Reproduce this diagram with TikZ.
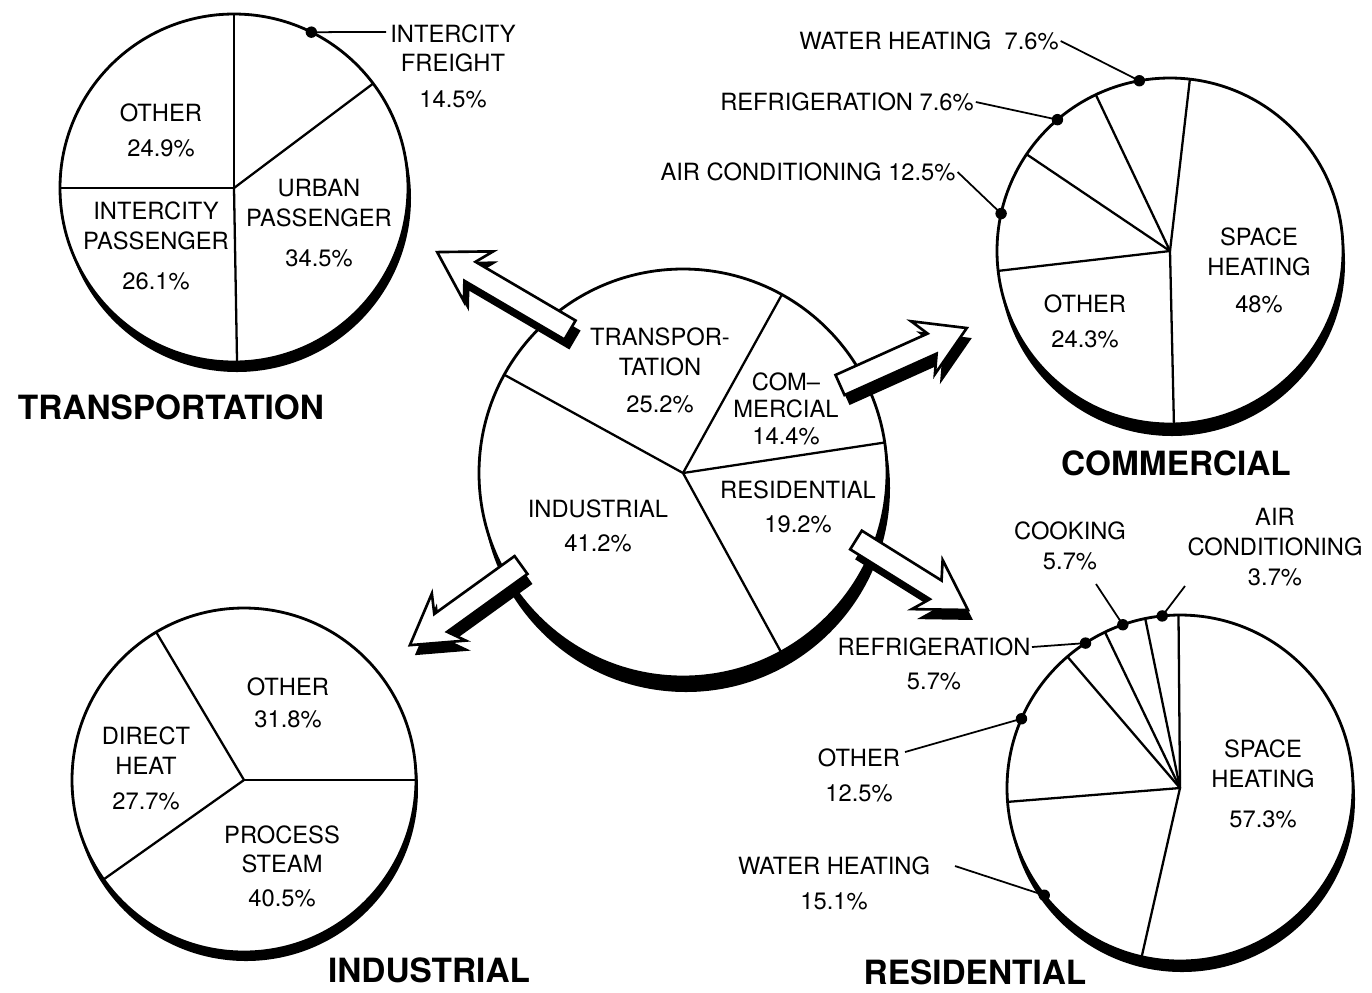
\documentclass[tikz,border=0pt]{standalone}
\usepackage{fontspec}
\setmainfont{TeX Gyre Heros}

\begin{document}
\begin{tikzpicture}[x=0.02cm, y=-0.02cm,
    lbl/.style={align=center, inner sep=1pt, font=\fontsize{13.5}{17}\selectfont},
    ttl/.style={inner sep=1pt, font=\fontsize{19}{22}\selectfont\bfseries},
    rim/.style={draw=black, line width=1.6pt, fill=white},
    cut/.style={line width=1.3pt},
    dot/.style={circle, fill=black, inner sep=0pt, minimum size=6.5pt},
    leader/.style={line width=1pt},
    arrowbody/.style={draw=black, line width=1.5pt, fill=white, line join=miter}]

    \useasboundingbox (0,0) rectangle (1372,992);

    % Transportation pie
    \begin{scope}[shift={(234,188)}]
        \fill (3,10) circle[radius=174];
        \draw[rim] (0,0) circle[radius=174];
        \foreach \a in {-90,-36.9,89,180}
            \draw[cut] (0,0) -- (\a:174);
        \node[dot] (trFreightDot) at (-63.6:174) {};
    \end{scope}

    % Commercial pie
    \begin{scope}[shift={(1170,251)}]
        \fill (2,12) circle[radius=173];
        \draw[rim] (0,0) circle[radius=173];
        \foreach \a in {-83.4,-115.4,-146,173.4,88.7}
            \draw[cut] (0,0) -- (\a:173);
        \node[dot] (coWaterDot) at (-100.2:173) {};
        \node[dot] (coRefrDot) at (-130.6:173) {};
        \node[dot] (coAirDot) at (-167.5:173) {};
    \end{scope}

    % Total (center) pie
    \begin{scope}[shift={(683,473)}]
        \fill (3,15) circle[radius=204];
        \draw[rim] (0,0) circle[radius=204];
        \foreach \a in {-151.2,-61,-8.6,61.3}
            \draw[cut] (0,0) -- (\a:204);
    \end{scope}

    % Industrial pie
    \begin{scope}[shift={(244,780)}]
        \fill (2,9) circle[radius=172];
        \draw[rim] (0,0) circle[radius=172];
        \foreach \a in {0,-120.7,144.7}
            \draw[cut] (0,0) -- (\a:172);
    \end{scope}

    % Residential pie
    \begin{scope}[shift={(1180,788)}]
        \fill (2,11) circle[radius=173];
        \draw[rim] (0,0) circle[radius=173];
        \foreach \a in {-90.5,-101.6,-115.7,-130.6,175.4,102.8}
            \draw[cut] (0,0) -- (\a:173);
        \node[dot] (reAirDot) at (-95.9:173) {};
        \node[dot] (reCookDot) at (-109.3:173) {};
        \node[dot] (reRefrDot) at (-123.1:173) {};
        \node[dot] (reOtherDot) at (-156.4:173) {};
        \node[dot] (reWaterDot) at (141.7:173) {};
    \end{scope}

    % Block arrows from the total pie (tail x/y, angle, length)
    \foreach \tx/\ty/\ang/\len in {570/330/149.6/154, 521/565/215.8/137, 840/385/24.2/139, 856/540/-32/132}
    {
        \fill[shift={(\tx+5,\ty+10)}, rotate=\ang]
            (0,-11) -- ({\len-38},-11) -- ({\len-48},-29) -- (\len,0)
            -- ({\len-48},29) -- ({\len-38},11) -- (0,11) -- cycle;
        \draw[arrowbody, shift={(\tx,\ty)}, rotate=\ang]
            (0,-11) -- ({\len-38},-11) -- ({\len-48},-29) -- (\len,0)
            -- ({\len-48},29) -- ({\len-38},11) -- (0,11) -- cycle;
    }

    % Labels, transportation
    \node[lbl] (trOther) at (161,130) {OTHER\\[3pt]24.9\%};
    \node[lbl] (trIntPass) at (156,246) {INTERCITY\\PASSENGER\\[6pt]26.1\%};
    \node[lbl] (trUrban) at (319,223) {URBAN\\PASSENGER\\[6pt]34.5\%};
    \node[lbl] (trFreight) at (453,66) {INTERCITY\\FREIGHT\\[3pt]14.5\%};
    \coordinate (trFreightEnd) at (386,32);
    \draw[leader] (trFreightEnd) -- (trFreightDot.center);
    \node[ttl] (trTitle) at (171,407) {TRANSPORTATION};

    % Labels, commercial
    \node[lbl] (coSpace) at (1259,270) {SPACE\\HEATING\\[4pt]48\%};
    \node[lbl] (coOther) at (1085,321) {OTHER\\[3pt]24.3\%};
    \node[lbl] (coWater) at (929,41) {WATER HEATING~~7.6\%};
    \node[lbl] (coRefr) at (847,102) {REFRIGERATION 7.6\%};
    \node[lbl] (coAir) at (808,172) {AIR CONDITIONING 12.5\%};
    \draw[leader] (coWater.east) -- (coWaterDot.center);
    \draw[leader] (coRefr.east) -- (coRefrDot.center);
    \draw[leader] (coAir.east) -- (coAirDot.center);
    \node[ttl] (coTitle) at (1176,463) {COMMERCIAL};

    % Labels, total
    \node[lbl] (maTrans) at (660,370) {TRANSPOR-\\TATION\\[4pt]25.2\%};
    \node[lbl, font=\fontsize{13.5}{15.5}\selectfont] (maComm) at (786,409) {COM--\\MERCIAL\\14.4\%};
    \node[lbl] (maRes) at (798,507) {RESIDENTIAL\\[2pt]19.2\%};
    \node[lbl] (maInd) at (598,526) {INDUSTRIAL\\[2pt]41.2\%};

    % Labels, industrial
    \node[lbl] (inOther) at (288,703) {OTHER\\[1pt]31.8\%};
    \node[lbl] (inDirect) at (146,768) {DIRECT\\HEAT\\[3pt]27.7\%};
    \node[lbl] (inSteam) at (282,866) {PROCESS\\STEAM\\[2pt]40.5\%};
    \node[ttl] (inTitle) at (429,970) {INDUSTRIAL};

    % Labels, residential
    \node[lbl] (reSpace) at (1263,784) {SPACE\\HEATING\\[6pt]57.3\%};
    \node[lbl] (reCook) at (1070,546) {COOKING\\5.7\%};
    \node[lbl] (reAir) at (1275,547) {AIR\\CONDITIONING\\3.7\%};
    \node[lbl] (reRefr) at (934,664) {REFRIGERATION\\[2pt]5.7\%};
    \node[lbl] (reOther) at (859,775) {OTHER\\[3pt]12.5\%};
    \node[lbl] (reWater) at (834,883) {WATER HEATING\\[3pt]15.1\%};
    \coordinate (reCookEnd) at (1096,584);
    \coordinate (reAirEnd) at (1185,586);
    \coordinate (reRefrEnd) at (1032,647);
    \coordinate (reOtherEnd) at (905,752);
    \coordinate (reWaterEnd) at (955,866);
    \draw[leader] (reCookEnd) -- (reCookDot.center);
    \draw[leader] (reAirEnd) -- (reAirDot.center);
    \draw[leader] (reRefrEnd) -- (reRefrDot.center);
    \draw[leader] (reOtherEnd) -- (reOtherDot.center);
    \draw[leader] (reWaterEnd) -- (reWaterDot.center);
    \node[ttl] (reTitle) at (975,972) {RESIDENTIAL};

\end{tikzpicture}
\end{document}
